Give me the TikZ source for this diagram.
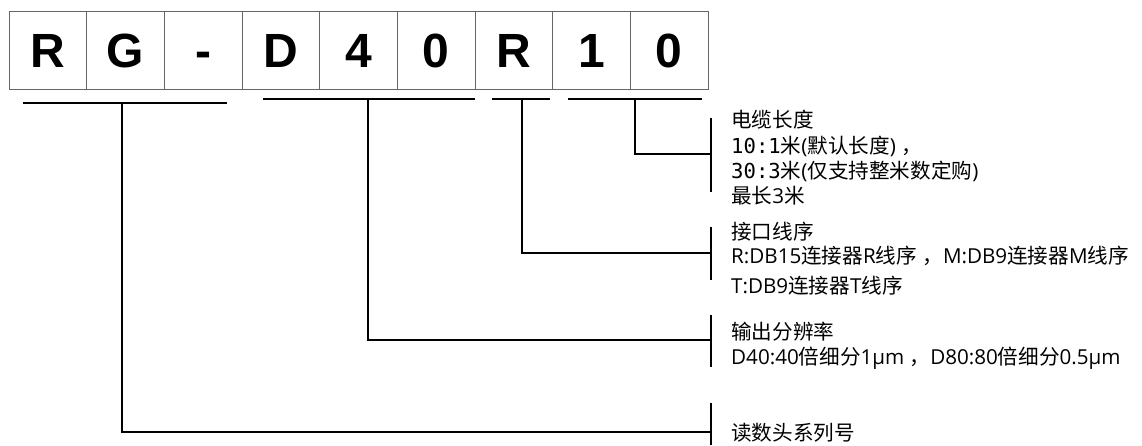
\documentclass[tikz,border=0pt]{standalone}
\usepackage{fontspec}
\setmainfont{Open Sans}
\newfontfamily\cjk{Noto Sans CJK SC}
\newfontfamily\hdfont{Liberation Sans}
\newfontfamily\digmono{DejaVu Sans Mono}
\begin{document}
\begin{tikzpicture}[x=1pt,y=-1pt,
  cell/.style={draw=black!60,line width=0.9pt,minimum width=77.67pt,minimum height=78pt,
    inner sep=0pt,text height=35pt,text depth=0pt,font=\hdfont\bfseries\fontsize{48}{48}\selectfont},
  rule/.style={line width=1.8pt,black},
  txt/.style={anchor=base west,inner sep=0pt,font=\fontsize{20.6}{24}\selectfont,text=black}]
\useasboundingbox (0,0) rectangle (1142,445);
% code boxes
\foreach \l [count=\i] in {R,G,-,D,4,0,R,1,0}{
  \node[cell] (b\i) at ({9+77.67*(\i-0.5)},50) {\l};
}
% underlines
\coordinate (u1a) at (23,103);  \coordinate (u1b) at (227,103);
\coordinate (u2a) at (263,99);  \coordinate (u2b) at (475,99);
\coordinate (u3a) at (492,99);  \coordinate (u3b) at (550,99);
\coordinate (u4a) at (568,99);  \coordinate (u4b) at (702,99);
\draw[rule] (u1a) -- (u1b);
\draw[rule] (u2a) -- (u2b);
\draw[rule] (u3a) -- (u3b);
\draw[rule] (u4a) -- (u4b);
% bracket bars
\coordinate (k1a) at (711,118); \coordinate (k1b) at (711,192);
\coordinate (k2a) at (711,227); \coordinate (k2b) at (711,280);
\coordinate (k3a) at (711,315); \coordinate (k3b) at (711,367);
\coordinate (k4a) at (711,403); \coordinate (k4b) at (711,445);
\draw[rule] (k1a) -- (k1b);
\draw[rule] (k2a) -- (k2b);
\draw[rule] (k3a) -- (k3b);
\draw[rule] (k4a) -- (k4b);
% stems
\coordinate (s1) at (122,103); \coordinate (e1) at (711,432);
\coordinate (s2) at (368,99);  \coordinate (e2) at (711,340);
\coordinate (s3) at (522,99);  \coordinate (e3) at (711,253);
\coordinate (s4) at (635,99);  \coordinate (e4) at (711,154);
\draw[rule] (s1) |- (e1);
\draw[rule] (s2) |- (e2);
\draw[rule] (s3) |- (e3);
\draw[rule] (s4) |- (e4);
% texts
\node[txt] (t1) at (731,127) {\cjk 电缆长度};
\node[txt] (t2) at (731,153) {{\digmono 10:1}{\cjk 米}({\cjk 默认长度}) {\cjk ，}};
\node[txt] (t3) at (731,178) {{\digmono 30:3}{\cjk 米}({\cjk 仅支持整米数定购})};
\node[txt] (t4) at (731,203) {{\cjk 最长}3{\cjk 米}};
\node[txt] (t5) at (731,239) {\cjk 接口线序};
\node[txt] (t6) at (731,263) {R:DB15{\cjk 连接器}R{\cjk 线序} {\cjk ，}M:DB9{\cjk 连接器}M{\cjk 线序}};
\node[txt] (t7) at (731,293) {T:DB9{\cjk 连接器}T{\cjk 线序}};
\node[txt] (t8) at (731,339) {\cjk 输出分辨率};
\node[txt] (t9) at (731,364) {D40:40{\cjk 倍细分}1µm {\cjk ，}D80:80{\cjk 倍细分}0.5µm};
\node[txt] (t10) at (731,440) {\cjk 读数头系列号};
\end{tikzpicture}
\end{document}
